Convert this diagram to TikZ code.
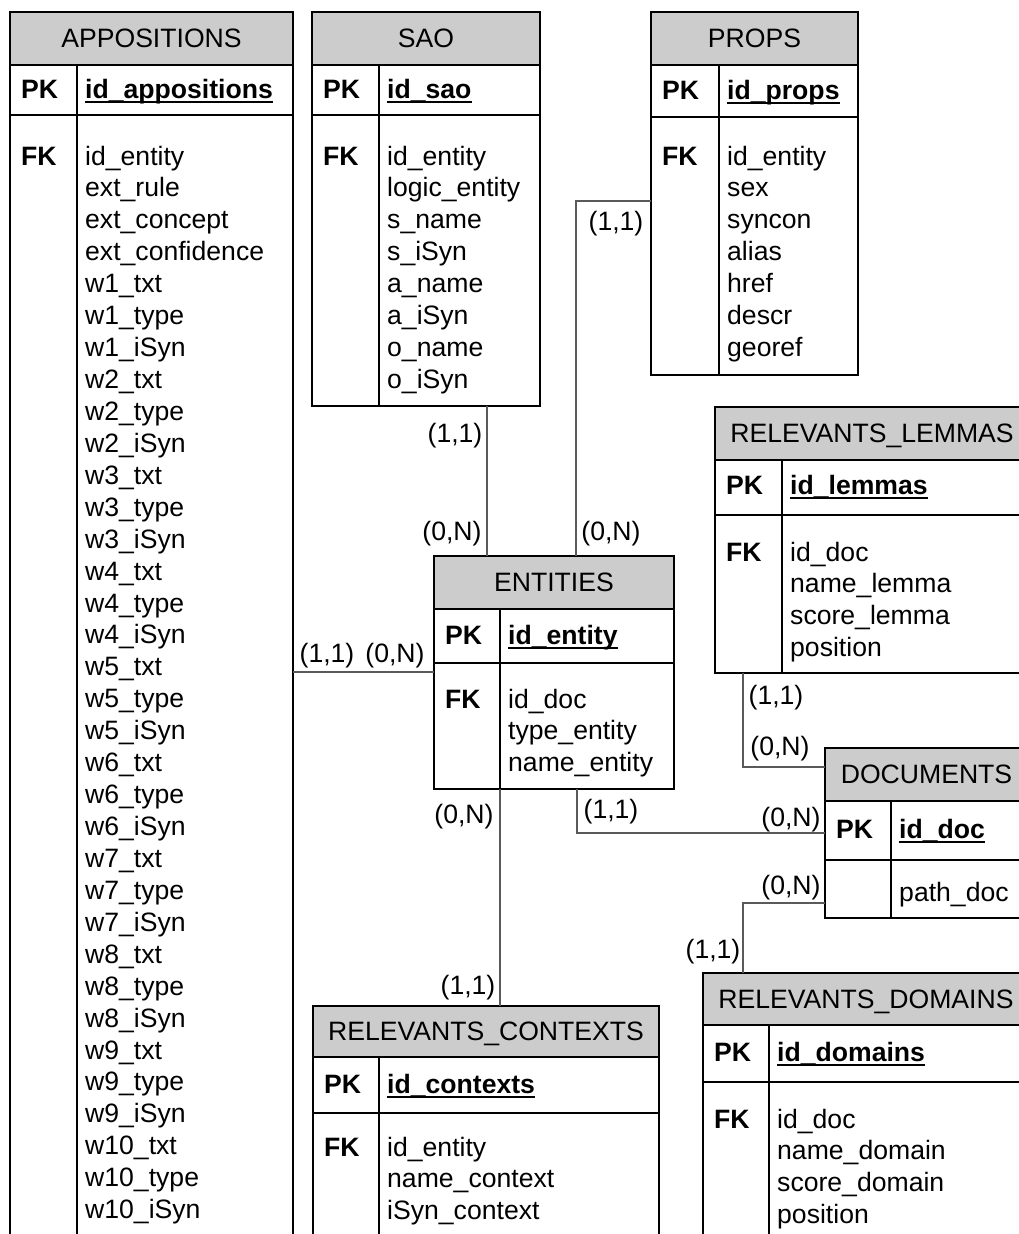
\documentclass[tikz,border=0pt]{standalone}
\usepackage{fontspec}
\setmainfont{Liberation Sans}
\definecolor{hdgray}{RGB}{204,204,204}
\definecolor{linkgray}{RGB}{90,90,90}
\newcommand\erfont{\fontsize{26.6}{32}\selectfont}

% table frame: name, left, divider, right, top, header bottom, key bottom, bottom, title
\newcommand\erTable[9]{%
  \fill[hdgray] (#2,#5) rectangle (#4,#6);
  \draw[tline] (#2,#6) -- (#4,#6) (#2,#7) -- (#4,#7) (#3,#6) -- (#3,#8);
  \node[tframe, minimum width=#4pt-#2pt, minimum height=#8pt-#5pt] (#1)
    at ({(#2+#4)/2},{(#5+#8)/2}) {};
  \node[titletext] (#1-title) at ({(#2+#4)/2},{(#5+#6)/2+9}) {#9};
}
% primary key row: table, left, divider, baseline, key field
\newcommand\erPK[5]{%
  \node[keytext] (#1-pk) at ({#2+11},{#4}) {PK};
  \node[keytext] (#1-id) at ({#3+8},{#4}) {#5};
  \draw[uline] ([yshift=-3.5pt]#1-id.base west) -- ([yshift=-3.5pt]#1-id.base east);
}
% foreign key marker: table, left, baseline
\newcommand\erFK[3]{\node[keytext] (#1-fk) at ({#2+11},{#3}) {FK};}
% attribute list: table, divider, first baseline, fields
\newcommand\erFields[4]{%
  \foreach \f [count=\i from 0] in {#4} {\node[fieldtext] (#1-f\i) at ({#2+8},{#3+31.93*\i}) {\f};}
}

\begin{document}
\begin{tikzpicture}[x=1pt,y=-1pt,font=\erfont,
  tline/.style={draw=black,line width=1.6pt},
  tframe/.style={draw=black,line width=1.6pt,rectangle,inner sep=0pt,outer sep=0pt},
  titletext/.style={anchor=base,inner sep=0pt},
  keytext/.style={anchor=base west,inner sep=0pt,font={\erfont\bfseries}},
  fieldtext/.style={anchor=base west,inner sep=0pt},
  uline/.style={line width=2pt},
  conn/.style={draw=linkgray,line width=1.2pt},
  card/.style={inner sep=0pt,anchor=center}]

\useasboundingbox (0,0) rectangle (1019,1234);
\fill[white] (0,0) rectangle (1019,1234);
\clip (0,0) rectangle (1019,1234);

% bend points of the links
\coordinate (b1) at (0,672);
\coordinate (b2) at (487,0);
\coordinate (b3) at (576,201);
\coordinate (b4) at (500,0);
\coordinate (b5) at (577,833);
\coordinate (b6) at (743,767);
\coordinate (b7) at (743,903);

% tables
\erTable{app}{10}{77}{293}{12}{65}{115}{1260}{APPOSITIONS}
\erPK{app}{10}{77}{98}{id\_appositions}
\erFK{app}{10}{165}
\erFields{app}{77}{165}{id\_entity, ext\_rule, ext\_concept, ext\_confidence,
  w1\_txt, w1\_type, w1\_iSyn, w2\_txt, w2\_type, w2\_iSyn,
  w3\_txt, w3\_type, w3\_iSyn, w4\_txt, w4\_type, w4\_iSyn,
  w5\_txt, w5\_type, w5\_iSyn, w6\_txt, w6\_type, w6\_iSyn,
  w7\_txt, w7\_type, w7\_iSyn, w8\_txt, w8\_type, w8\_iSyn,
  w9\_txt, w9\_type, w9\_iSyn, w10\_txt, w10\_type, w10\_iSyn}

\erTable{sao}{312}{379}{540}{12}{65}{115}{406}{SAO}
\erPK{sao}{312}{379}{98}{id\_sao}
\erFK{sao}{312}{165}
\erFields{sao}{379}{165}{id\_entity, logic\_entity, s\_name, s\_iSyn, a\_name, a\_iSyn, o\_name, o\_iSyn}

\erTable{props}{651}{719}{858}{12}{65}{117}{375}{PROPS}
\erPK{props}{651}{719}{99}{id\_props}
\erFK{props}{651}{165}
\erFields{props}{719}{165}{id\_entity, sex, syncon, alias, href, descr, georef}

\erTable{lem}{715}{782}{1029}{407}{460}{515}{673}{RELEVANTS\_LEMMAS}
\erPK{lem}{715}{782}{494}{id\_lemmas}
\erFK{lem}{715}{561}
\erFields{lem}{782}{561}{id\_doc, name\_lemma, score\_lemma, position}

\erTable{ent}{434}{500}{674}{556}{609}{663}{789}{ENTITIES}
\erPK{ent}{434}{500}{644}{id\_entity}
\erFK{ent}{434}{708}
\erFields{ent}{500}{708}{id\_doc, type\_entity, name\_entity}

\erTable{doc}{825}{891}{1028}{748}{801}{860}{918}{DOCUMENTS}
\erPK{doc}{825}{891}{838}{id\_doc}
\erFields{doc}{891}{901}{path\_doc}

\erTable{ctx}{313}{379}{659}{1006}{1057}{1113}{1260}{RELEVANTS\_CONTEXTS}
\erPK{ctx}{313}{379}{1093}{id\_contexts}
\erFK{ctx}{313}{1156}
\erFields{ctx}{379}{1156}{id\_entity, name\_context, iSyn\_context}

\erTable{dom}{703}{769}{1029}{973}{1025}{1082}{1260}{RELEVANTS\_DOMAINS}
\erPK{dom}{703}{769}{1061}{id\_domains}
\erFK{dom}{703}{1128}
\erFields{dom}{769}{1128}{id\_doc, name\_domain, score\_domain, position}

% links
\draw[conn] (app.east |- b1) -- (ent.west |- b1);
\draw[conn] (sao.south -| b2) -- (ent.north -| b2);
\draw[conn] (props.west |- b3) -- (b3) -- (ent.north -| b3);
\draw[conn] (ent.south -| b4) -- (ctx.north -| b4);
\draw[conn] (ent.south -| b5) -- (b5) -- (doc.west |- b5);
\draw[conn] (lem.south -| b6) -- (b6) -- (doc.west |- b6);
\draw[conn] (doc.west |- b7) -- (b7) -- (dom.north -| b7);

% cardinalities
\node[card] (c1) at (327,656) {(1,1)};
\node[card] (c2) at (395,656) {(0,N)};
\node[card] (c3) at (455,436) {(1,1)};
\node[card] (c4) at (452,534) {(0,N)};
\node[card] (c5) at (616,224) {(1,1)};
\node[card] (c6) at (611,534) {(0,N)};
\node[card] (c7) at (464,817) {(0,N)};
\node[card] (c8) at (468,988) {(1,1)};
\node[card] (c9) at (611,812) {(1,1)};
\node[card] (c10) at (791,820) {(0,N)};
\node[card] (c11) at (776,698) {(1,1)};
\node[card] (c12) at (780,749) {(0,N)};
\node[card] (c13) at (791,888) {(0,N)};
\node[card] (c14) at (713,952) {(1,1)};
\end{tikzpicture}
\end{document}
